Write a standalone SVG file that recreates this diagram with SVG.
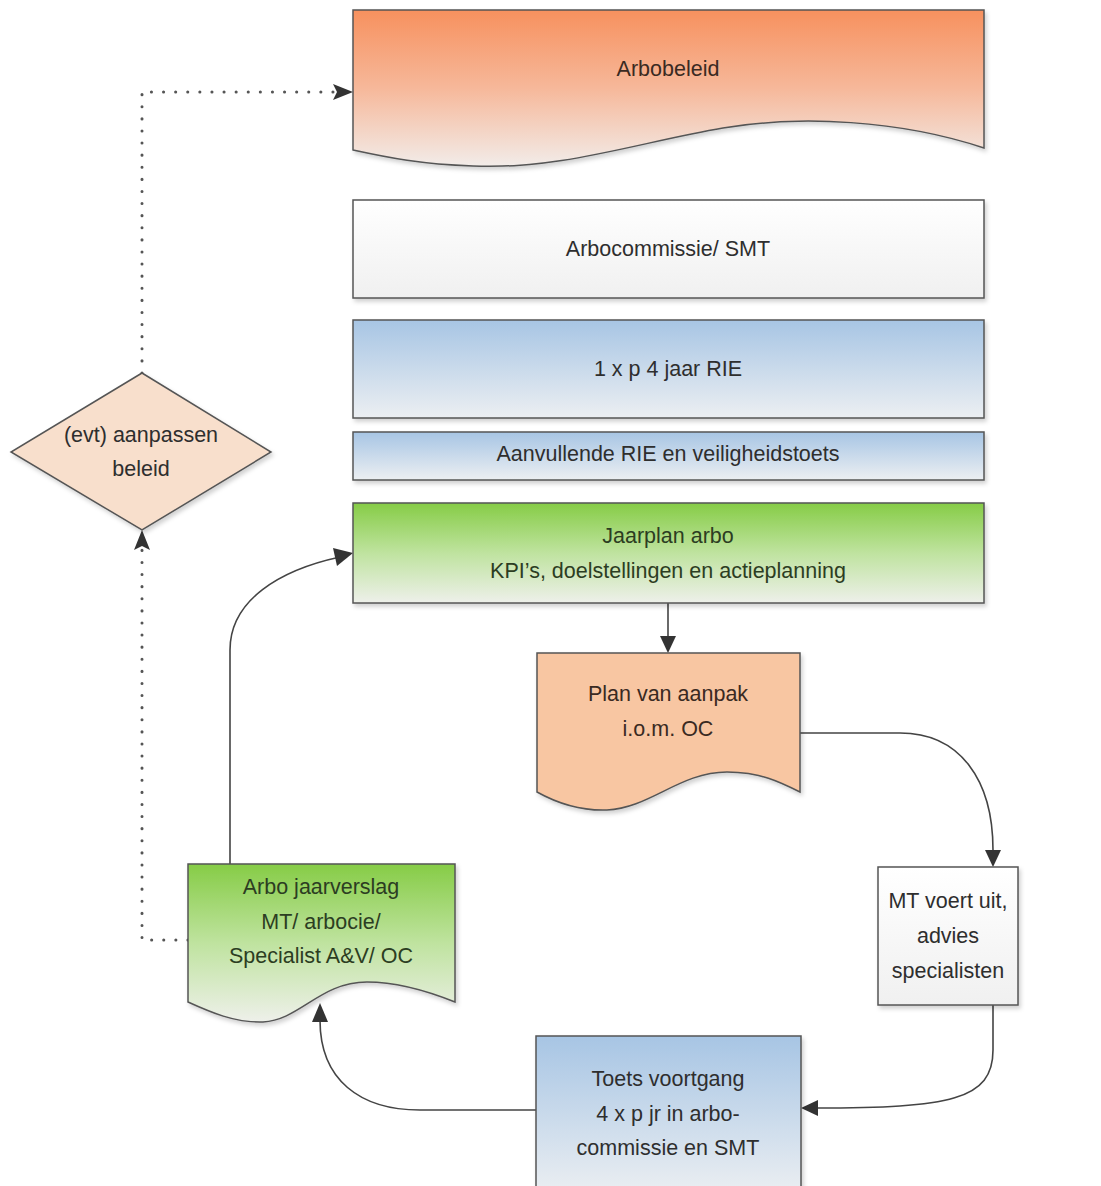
<svg xmlns="http://www.w3.org/2000/svg" width="1101" height="1186" viewBox="0 0 1101 1186">
<defs>
<linearGradient id="gOr" x1="0" y1="0" x2="0" y2="1"><stop offset="0" stop-color="#f7915e"/><stop offset="0.5" stop-color="#f6b89a"/><stop offset="1" stop-color="#f2ece9"/></linearGradient>
<linearGradient id="gWh" x1="0" y1="0" x2="0" y2="1"><stop offset="0" stop-color="#ffffff"/><stop offset="1" stop-color="#f0f0f0"/></linearGradient>
<linearGradient id="gBl" x1="0" y1="0" x2="0" y2="1"><stop offset="0" stop-color="#a7c5e4"/><stop offset="1" stop-color="#eceff2"/></linearGradient>
<linearGradient id="gGr" x1="0" y1="0" x2="0" y2="1"><stop offset="0" stop-color="#86cc46"/><stop offset="0.5" stop-color="#bfe39f"/><stop offset="1" stop-color="#eef0ea"/></linearGradient>
<filter id="sh" x="-5%" y="-5%" width="115%" height="120%"><feDropShadow dx="2" dy="3" stdDeviation="2" flood-color="#000" flood-opacity="0.18"/></filter>
</defs>
<style>
.box{stroke:#555;stroke-width:1.5;filter:url(#sh)}
.t{font-family:"Liberation Sans",Arial,sans-serif;font-size:21.5px;fill:#2e2e2e;text-anchor:middle}
.tg{fill:#2c3d22}
.to{fill:#3a2a22}
.c{fill:none;stroke:#444;stroke-width:1.6}
.d{fill:none;stroke:#555;stroke-width:3;stroke-dasharray:0.1 12;stroke-linecap:round}
.ah{fill:#333}
</style>
<rect width="1101" height="1186" fill="#fff"/>
<g id="connectors">
<path class="d" d="M142,373 V92 H333"/>
<path class="ah" d="M333,84 L353,92 L333,100 L337,92 Z"/>
<path class="d" d="M188,940 H142 V550"/>
<path class="ah" d="M134,550 L142,530 L150,550 L142,546 Z"/>
<path class="c" d="M230,864 V650 C230,600 280,570 340,557"/>
<path class="ah" d="M333,548 L353,553 L337,566 Z"/>
<path class="c" d="M668,603 V640"/>
<path class="ah" d="M660,636 L668,653 L676,636 Z"/>
<path class="c" d="M800,733 H900 C960,733 993,780 993,850"/>
<path class="ah" d="M985,850 L993,867 L1001,850 Z"/>
<path class="c" d="M993,1005 V1050 C993,1100 950,1108 815,1108"/>
<path class="ah" d="M818,1100 L801,1108 L818,1116 Z"/>
<path class="c" d="M536,1110 H420 C360,1110 320,1080 320,1020"/>
<path class="ah" d="M312,1022 L320,1003 L328,1022 Z"/>
</g>
<g id="arbobeleid">
<path class="box" fill="url(#gOr)" d="M353,10 H984 V148 C900,120 800,115 723,128 C640,142 560,170 473,166 C420,164 390,158 353,150 Z"/>
<text class="t to" x="668" y="76">Arbobeleid</text>
</g>
<g id="arbocommissie">
<rect class="box" fill="url(#gWh)" x="353" y="200" width="631" height="98"/>
<text class="t" x="668" y="256">Arbocommissie/ SMT</text>
</g>
<g id="rie">
<rect class="box" fill="url(#gBl)" x="353" y="320" width="631" height="98"/>
<text class="t" x="668" y="376">1 x p 4  jaar RIE</text>
</g>
<g id="aanvullende">
<rect class="box" fill="url(#gBl)" x="353" y="432" width="631" height="48"/>
<text class="t" x="668" y="461">Aanvullende RIE en veiligheidstoets</text>
</g>
<g id="jaarplan">
<rect class="box" fill="url(#gGr)" x="353" y="503" width="631" height="100"/>
<text class="t tg" x="668" y="543">Jaarplan arbo</text>
<text class="t tg" x="668" y="578">KPI’s, doelstellingen en actieplanning</text>
</g>
<g id="planvanaanpak">
<path class="box" fill="#f8c6a2" d="M537,653 H800 V792 C780,782 760,772 727,772 C680,772 650,808 607,810 C580,811 555,802 537,792 Z"/>
<text class="t to" x="668" y="701">Plan van aanpak</text>
<text class="t to" x="668" y="736">i.o.m. OC</text>
</g>
<g id="mtvoertuit">
<rect class="box" fill="url(#gWh)" x="878" y="867" width="140" height="138"/>
<text class="t" x="948" y="908">MT voert uit,</text>
<text class="t" x="948" y="943">advies</text>
<text class="t" x="948" y="978">specialisten</text>
</g>
<g id="toets">
<rect class="box" fill="url(#gBl)" x="536" y="1036" width="265" height="160"/>
<text class="t" x="668" y="1086">Toets voortgang</text>
<text class="t" x="668" y="1121">4 x p jr in arbo-</text>
<text class="t" x="668" y="1155">commissie en SMT</text>
</g>
<g id="jaarverslag">
<path class="box" fill="url(#gGr)" d="M188,864 H455 V1002 C430,992 400,982 367,982 C320,982 300,1020 263,1022 C235,1023 210,1012 188,1002 Z"/>
<text class="t tg" x="321" y="894">Arbo jaarverslag</text>
<text class="t tg" x="321" y="929">MT/ arbocie/</text>
<text class="t tg" x="321" y="963">Specialist A&amp;V/  OC</text>
</g>
<g id="aanpassen">
<path class="box" fill="#f8dfcc" d="M142,373 L271,452 L142,530 L11,452 Z"/>
<text class="t" x="141" y="442">(evt) aanpassen</text>
<text class="t" x="141" y="476">beleid</text>
</g>
</svg>
